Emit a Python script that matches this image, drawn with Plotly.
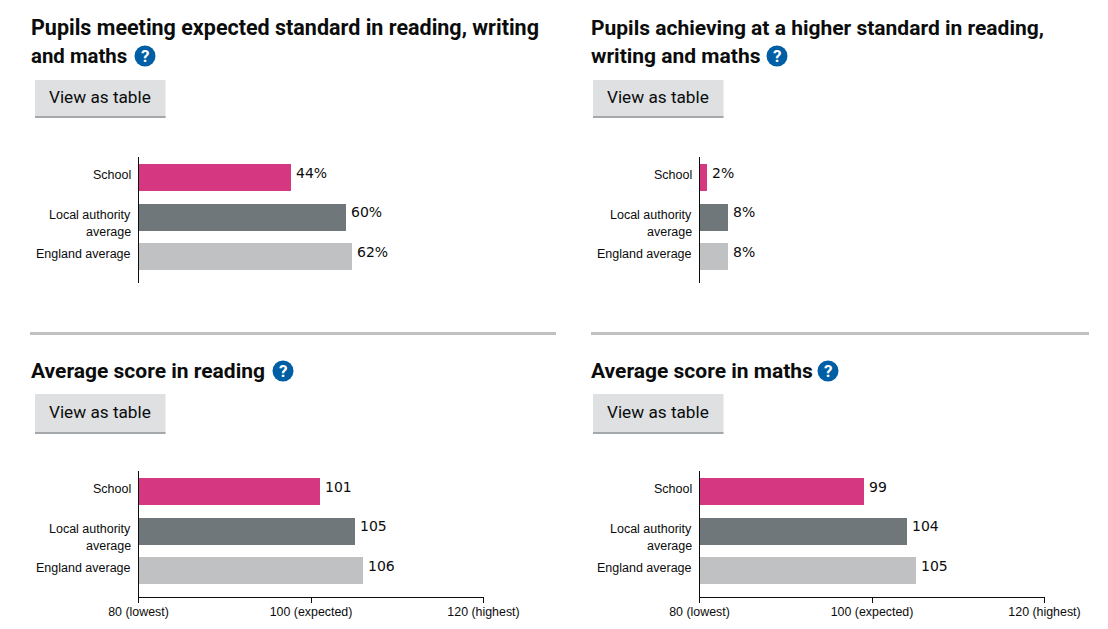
import plotly.graph_objects as go

W = 1108
H = 629

categories = ["School", "Local authority average", "England average"]
category_lines = [["School"], ["Local authority", "average"], ["England average"]]
bar_colors = ["#d53880", "#6f777b", "#bfc1c3"]

titles = [
    ["Pupils meeting expected standard in reading, writing", "and maths"],
    ["Pupils achieving at a higher standard in reading,", "writing and maths"],
    ["Average score in reading"],
    ["Average score in maths"],
]
expected_standard = [44, 60, 62]
higher_standard = [2, 8, 8]
reading_score = [101, 105, 106]
maths_score = [99, 104, 105]
panel_values = [expected_standard, higher_standard, reading_score, maths_score]
value_suffix = ["%", "%", "", ""]

score_ticks = [80, 100, 120]
score_tick_labels = ["80 (lowest)", "100 (expected)", "120 (highest)"]

# pixel layout of each panel
plot_left = [138.5, 699.5, 138.5, 699.5]
plot_top = [157, 157, 471, 471]
title_left = [31, 591, 31, 591]
title_y = [28, 28, 371, 371]
title_size = [[21.5, 20.4], [21, 21], [21], [21]]
icon_x = [145, 777, 283, 828]
icon_y = [56, 56, 371, 371]
button_left = [35, 593, 35, 593]
button_top = [80, 80, 394, 394]
button_height = [38, 38, 40, 40]
PLOT_W = 345
PLOT_H = 126

TEXT = "#0b0c0c"
TITLE_FONT = "Roboto"
TICK_FONT = "Liberation Sans"


def px(x):
    return x / W


def py(y):
    return 1 - y / H


fig = go.Figure()
annotations = []
shapes = []

for i, values in enumerate(panel_values):
    n = "" if i == 0 else str(i + 1)
    fig.add_trace(go.Bar(x=values, y=categories, orientation="h", width=0.684,
                         marker=dict(color=bar_colors, line_width=0),
                         xaxis="x" + n, yaxis="y" + n, showlegend=False, hoverinfo="skip"))

    scored = i >= 2
    fig.update_layout({
        "xaxis" + n: dict(domain=[px(plot_left[i]), px(plot_left[i] + PLOT_W)],
                          range=[80, 120] if scored else [0, 100.2], automargin=False,
                          anchor="y" + n, visible=scored, showgrid=False, zeroline=False,
                          showline=scored, linecolor=TEXT, linewidth=1,
                          tickmode="array", tickvals=score_ticks, ticktext=score_tick_labels,
                          ticks="outside", ticklen=5, tickcolor=TEXT, tickwidth=1,
                          ticklabelstandoff=-2,
                          tickfont=dict(family=TICK_FONT, size=12.4, color=TEXT)),
        "yaxis" + n: dict(domain=[py(plot_top[i] + PLOT_H), py(plot_top[i])],
                          type="category", categoryorder="array", categoryarray=categories,
                          range=[2.67, -0.52], anchor="x" + n, showgrid=False, zeroline=False,
                          automargin=False, showline=True, linecolor=TEXT, linewidth=1,
                          ticks="", showticklabels=False),
    })

    # value labels
    for cat, v in zip(categories, values):
        annotations.append(dict(x=v, y=cat, xref="x" + n, yref="y" + n, text=f"{v}{value_suffix[i]}",
                                showarrow=False, xanchor="left", xshift=3.5, yshift=5,
                                font=dict(family="DejaVu Sans", size=14, color=TEXT)))

    # category labels
    for cat, lines in zip(categories, category_lines):
        for k, line in enumerate(lines):
            annotations.append(dict(x=0, y=cat, xref="x" + n + " domain", yref="y" + n, text=line,
                                    showarrow=False, xanchor="right", xshift=-6, yshift=2.5 - k * 17,
                                    font=dict(family=TICK_FONT, size=12.5, color=TEXT)))

    # heading
    for k, line in enumerate(titles[i]):
        annotations.append(dict(x=px(title_left[i]), y=py(title_y[i] + k * 28), xref="paper", yref="paper",
                                text=f"<b>{line}</b>", showarrow=False, xanchor="left", yanchor="middle",
                                xshift=-2, font=dict(family=TITLE_FONT, size=title_size[i][k], color=TEXT)))

    # help icon
    shapes.append(dict(type="circle", xref="paper", yref="paper", fillcolor="#005ea5", line_width=0,
                       x0=px(icon_x[i] - 10.5), x1=px(icon_x[i] + 10.5),
                       y0=py(icon_y[i] + 10.5), y1=py(icon_y[i] - 10.5)))
    annotations.append(dict(x=px(icon_x[i]), y=py(icon_y[i]), xref="paper", yref="paper", text="<b>?</b>",
                            showarrow=False, xanchor="center", yanchor="middle",
                            font=dict(family=TITLE_FONT, size=17, color="white")))

    # "View as table" button
    b_l, b_t, b_h = button_left[i], button_top[i], button_height[i]
    shapes.append(dict(type="rect", xref="paper", yref="paper", fillcolor="#dee0e2", line_width=0,
                       x0=px(b_l), x1=px(b_l + 130.5), y0=py(b_t + b_h), y1=py(b_t)))
    shapes.append(dict(type="rect", xref="paper", yref="paper", fillcolor="#a5a8aa", line_width=0,
                       x0=px(b_l), x1=px(b_l + 130.5), y0=py(b_t + b_h), y1=py(b_t + b_h - 2)))
    annotations.append(dict(x=px(b_l + 64.5), y=py(b_t + b_h / 2 - 2), xref="paper", yref="paper",
                            text="View as table", showarrow=False, xanchor="center", yanchor="middle",
                            font=dict(family="Roboto", size=17.2, color=TEXT)))

# rules between the rows
for x0, x1 in [(30, 556), (591, 1089)]:
    shapes.append(dict(type="rect", xref="paper", yref="paper", fillcolor="#bfc1c3", line_width=0,
                       x0=px(x0), x1=px(x1), y0=py(335), y1=py(332)))

fig.update_layout(width=W, height=H, margin=dict(l=0, r=0, t=0, b=0), autosize=False,
                  paper_bgcolor="white", plot_bgcolor="white", shapes=shapes,
                  annotations=annotations, bargap=0)

fig.write_html("out.html", post_script="document.body.style.margin='0';document.body.style.overflow='hidden';",
               config={"displayModeBar": False})
